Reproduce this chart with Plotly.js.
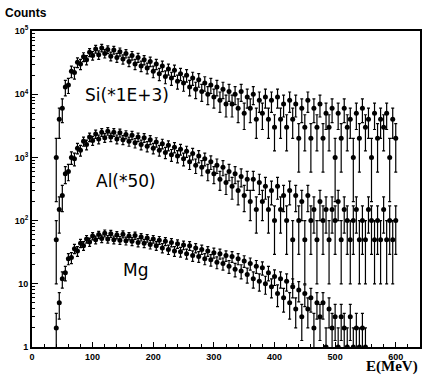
<!DOCTYPE html>
<html><head><meta charset="utf-8">
<script src="https://cdn.plot.ly/plotly-3.0.1.min.js"></script>
<style>html,body{margin:0;padding:0;background:#fff}#chart{width:426px;height:376px}</style>
</head><body><div id="chart"></div>
<script>
// Energy bin centres (MeV)
const energy = [40,45,50,55,60,65,70,75,80,85,90,95,100,105,110,115,120,125,130,135,140,145,150,155,160,165,170,175,180,185,190,195,200,205,210,215,220,225,230,235,240,245,250,255,260,265,270,275,280,285,290,295,300,305,310,315,320,325,330,335,340,345,350,355,360,365,370,375,380,385,390,395,400,405,410,415,420,425,430,435,440,445,450,455,460,465,470,475,480,485,490,495,500,505,510,515,520,525,530,535,540,545,550,555,560,565,570,575,580,585,590,595,600];
const energyMg = energy.slice(0, 103); // 40 .. 550 MeV

// Raw counts per bin, before scaling
const siCounts = [
  1,4,6,13,14,23,22,32,30,39,
  35,46,41,52,42,54,44,51,40,50,
  38,47,36,44,33,41,30,38,28,35,
  26,33,23,30,21,28,19,25,18,24,
  16,21,15,20,13,18,12,17,11,15,
  10,14,9,13,8,12,7,11,7,10,
  6,11,5,9,6,10,4,8,5,9,
  4,8,3,9,4,7,3,8,4,7,
  2,6,3,8,2,6,3,7,2,5,
  3,6,1,5,2,6,3,4,1,5,
  2,6,3,4,1,5,2,4,3,5,
  1,4,2];
const alCounts = [
  1,3,5,11,12,20,19,28,26,36,
  32,42,37,47,39,50,41,52,42,50,
  39,49,38,46,36,45,34,42,32,41,
  30,38,28,35,26,33,24,31,22,29,
  21,27,19,25,17,23,15,21,14,19,
  12,17,11,15,9,14,8,12,7,11,
  6,10,5,9,4,9,3,8,4,7,
  3,6,2,7,3,5,2,6,1,5,
  2,4,1,5,2,3,1,4,2,3,
  1,3,2,4,1,3,2,1,2,3,
  1,2,1,3,2,1,2,1,3,1,
  2,1,2];
const mgCounts = [
  2,5,12,15,25,26,36,33,44,40,
  51,46,57,50,60,52,63,51,62,50,
  59,49,61,48,57,47,58,45,55,44,
  53,42,51,40,49,37,47,35,45,33,
  43,32,41,30,40,28,37,27,35,25,
  33,24,31,22,30,21,28,19,27,17,
  25,16,23,14,21,12,19,11,18,10,
  15,9,13,7,12,6,11,5,9,4,
  8,3,7,4,6,2,5,3,5,1,
  4,2,3,1,3,2,1,3,1,2,
  1,2,1];

// Scale factors printed on the figure
const siScale = 1000, alScale = 50, mgScale = 1;
const labels = ["Si(*1E+3)", "Al(*50)", "Mg"];
const xTicks = [0,100,200,300,400,500,600];
const yTicks = [1,10,100,1000,10000,100000];
const yTickText = ['1','10','10<sup>2</sup>','10<sup>3</sup>','10<sup>4</sup>','10<sup>5</sup>'];
const yMinor = [2,3,4,5,6,7,8,9,20,30,40,50,60,70,80,90,200,300,400,500,600,700,800,900,
  2000,3000,4000,5000,6000,7000,8000,9000,20000,30000,40000,50000,60000,70000,80000,90000];

function makeTrace(x, counts, scale) {
  const y = counts.map(c => c * scale);
  const up = counts.map(c => Math.sqrt(c) * scale);
  const dn = counts.map(c => Math.min(Math.sqrt(c), 0.8 * c) * scale);
  return {
    x: x, y: y, type: 'scatter', mode: 'markers',
    marker: {color: '#000', size: 5},
    error_y: {type: 'data', symmetric: false, array: up, arrayminus: dn,
              color: '#000', thickness: 1.2, width: 1.5},
    showlegend: false, hoverinfo: 'skip'
  };
}

const data = [
  makeTrace(energy, siCounts, siScale),
  makeTrace(energy, alCounts, alScale),
  makeTrace(energyMg, mgCounts, mgScale)
];

const tickFont = {family: 'Liberation Sans, Arial, sans-serif', size: 9, color: '#000', weight: 'bold'};
const labFont = {family: 'DejaVu Sans, sans-serif', size: 17, color: '#000'};

const layout = {
  width: 426, height: 376,
  margin: {l: 32, r: 6, t: 31, b: 29},
  paper_bgcolor: '#fff', plot_bgcolor: '#fff',
  xaxis: {
    range: [0, 640], tickmode: 'array', tickvals: xTicks, ticks: 'inside', ticklen: 5, tickwidth: 1,
    tickcolor: '#000', showline: true, linecolor: '#000', linewidth: 2, mirror: true,
    showgrid: false, zeroline: false, tickfont: tickFont, ticklabelstandoff: 0,
    minor: {dtick: 20, ticks: 'inside', ticklen: 3, tickcolor: '#000', showgrid: false}
  },
  yaxis: {
    type: 'log', range: [0, 5], tickmode: 'array', tickvals: yTicks, ticktext: yTickText,
    ticks: 'inside', ticklen: 6, tickwidth: 1, tickcolor: '#000',
    showline: true, linecolor: '#000', linewidth: 2, mirror: true,
    showgrid: false, zeroline: false,
    tickfont: {family: 'Liberation Sans, Arial, sans-serif', size: 9, color: '#000', weight: 'bold'},
    minor: {tickmode: 'array', tickvals: yMinor, ticks: 'inside', ticklen: 3, tickcolor: '#000', showgrid: false}
  },
  annotations: [
    {xref: 'paper', yref: 'paper', x: -0.075, y: 1.0, yshift: 18, xanchor: 'left', yanchor: 'middle',
     text: 'Counts', showarrow: false, font: {family: 'Liberation Sans, Arial, sans-serif', size: 12, color: '#000', weight: 'bold'}},
    {xref: 'paper', yref: 'paper', x: 1.0, y: 0, yshift: -30, xanchor: 'right', yanchor: 'bottom',
     text: 'E(MeV)', showarrow: false, font: {family: 'Liberation Serif, serif', size: 15, color: '#000', weight: 'bold'}},
    {xref: 'x', yref: 'y', x: 157, y: 3.98, xanchor: 'center', yanchor: 'middle',
     text: labels[0], showarrow: false, font: labFont},
    {xref: 'x', yref: 'y', x: 155, y: 2.62, xanchor: 'center', yanchor: 'middle',
     text: labels[1], showarrow: false, font: labFont},
    {xref: 'x', yref: 'y', x: 170, y: 1.22, xanchor: 'center', yanchor: 'middle',
     text: labels[2], showarrow: false, font: labFont}
  ]
};

Plotly.newPlot('chart', data, layout, {staticPlot: true, displayModeBar: false});
</script>
</body></html>
